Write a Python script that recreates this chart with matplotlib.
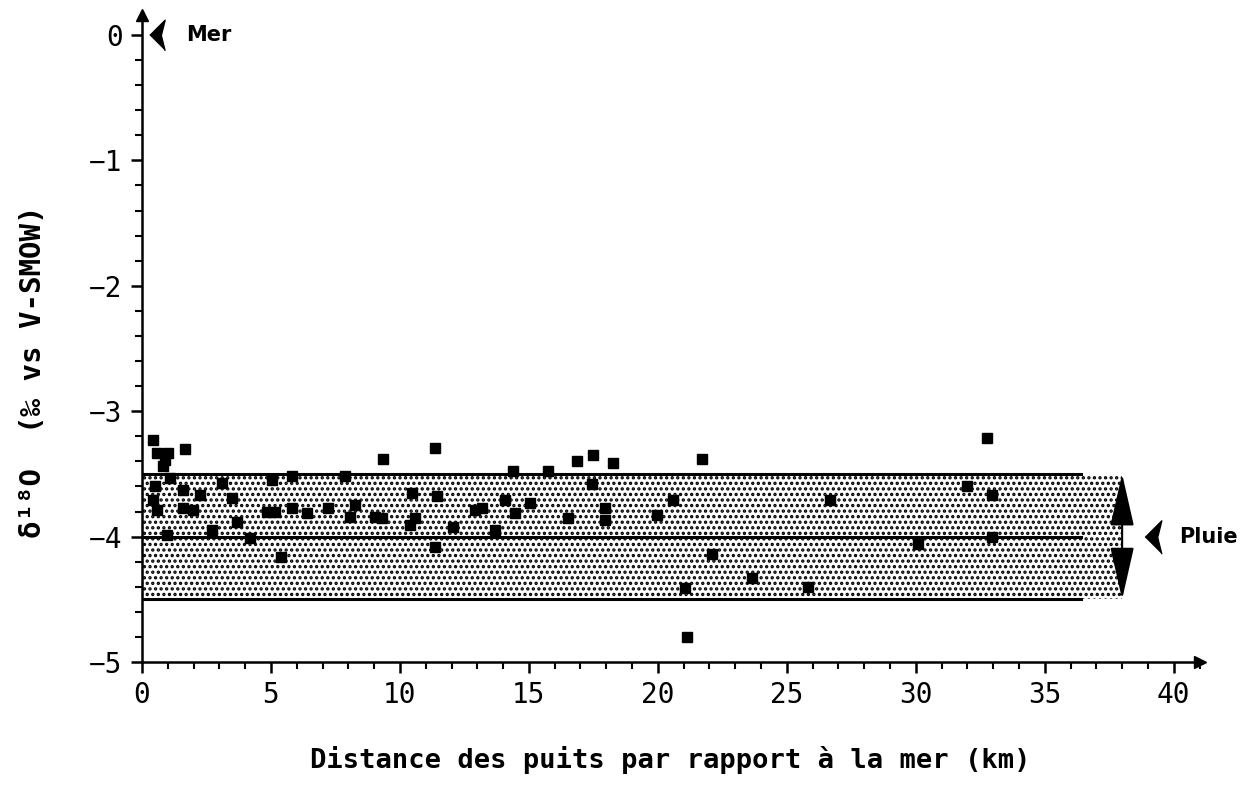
import numpy as np
import matplotlib
matplotlib.use("Agg")
import matplotlib.pyplot as plt
from matplotlib.ticker import MultipleLocator

# distance to the sea (km) and d18O (permil vs V-SMOW) of the wells
dist_km = [0.43, 0.58, 0.9, 1.0, 0.82, 1.67,
           0.5, 0.43, 0.58, 1.08, 1.6, 2.25, 1.6, 1.98, 3.1, 3.5, 3.68, 2.7,
           0.97, 4.2, 5.04, 5.8, 4.84, 5.15, 5.8, 6.4, 5.4,
           9.34, 11.36, 7.87, 10.47, 11.43, 7.2, 8.26, 8.06, 9.03, 9.3,
           10.58, 10.4, 12.05, 12.9, 13.18, 13.7, 11.36,
           16.86, 17.5, 18.26, 14.38, 15.74, 17.44, 14.07, 15.04, 14.46,
           16.5, 17.95, 17.95, 19.96, 20.58,
           21.7, 26.67, 22.1, 23.64, 21.05, 25.81, 21.12,
           32.75, 32.0, 32.95, 32.95, 30.08]
d18o = [-3.23, -3.33, -3.39, -3.33, -3.44, -3.30,
        -3.60, -3.71, -3.79, -3.53, -3.63, -3.67, -3.77, -3.79, -3.57, -3.69, -3.88, -3.95,
        -3.99, -4.01, -3.55, -3.52, -3.80, -3.80, -3.77, -3.81, -4.16,
        -3.38, -3.29, -3.52, -3.65, -3.68, -3.77, -3.75, -3.84, -3.84, -3.85,
        -3.85, -3.91, -3.92, -3.79, -3.77, -3.95, -4.08,
        -3.40, -3.35, -3.41, -3.48, -3.48, -3.58, -3.71, -3.73, -3.81,
        -3.85, -3.77, -3.87, -3.83, -3.71,
        -3.38, -3.71, -4.14, -4.33, -4.41, -4.40, -4.80,
        -3.21, -3.60, -3.67, -4.00, -4.06]

# rain range and sea value
rain_mean = -4.0
rain_low, rain_high = -4.5, -3.5
sea_value = 0.0

fig = plt.figure(figsize=(12.5, 7.98), dpi=100)
ax = fig.add_axes([0.1136, 0.1704, 0.846, 0.811])

ax.set_xlim(0, 41)
ax.set_ylim(-5, 0.16)

# stippled band of rain values
plt.rcParams["hatch.linewidth"] = 1.6
ax.fill_between([0, 38.0], rain_low, rain_high, facecolor="white",
                edgecolor="black", hatch="...", linewidth=0, zorder=1)
for yv in [rain_high, rain_mean, rain_low]:
    ax.plot([0, 36.4], [yv, yv], color="black", lw=2.2, zorder=2)

ax.plot(dist_km, d18o, "s", color="black", markersize=6.5, zorder=3)

# axes style
for s in ["top", "right"]:
    ax.spines[s].set_visible(False)
ax.spines["left"].set_linewidth(1.8)
ax.spines["bottom"].set_linewidth(1.8)
ax.plot(1, 0, ">", transform=ax.transAxes, color="black", markersize=9, clip_on=False)
ax.plot(0, 1, "^", transform=ax.transAxes, color="black", markersize=9, clip_on=False)

ax.xaxis.set_major_locator(MultipleLocator(5))
ax.xaxis.set_minor_locator(MultipleLocator(1))
ax.yaxis.set_major_locator(MultipleLocator(1))
ax.yaxis.set_minor_locator(MultipleLocator(0.2))
ax.set_xticks(np.arange(0, 41, 5))
ax.set_yticks(np.arange(-5, 1, 1))
ax.set_yticklabels(["\u22125", "\u22124", "\u22123", "\u22122", "\u22121", "0"])
ax.tick_params(which="major", length=8, width=1.8, labelsize=20, pad=6)
ax.tick_params(which="minor", length=5, width=1.5)
for lab in ax.get_xticklabels() + ax.get_yticklabels():
    lab.set_family("DejaVu Sans Mono")

ax.set_xlabel("Distance des puits par rapport \u00e0 la mer (km)", family="DejaVu Sans Mono",
              fontweight="bold", fontsize=19.5, labelpad=26)
ax.set_ylabel("\u03b4\u00b9\u2078O  (\u2030 vs V-SMOW)", family="DejaVu Sans Mono",
              fontweight="bold", fontsize=21)
ax.yaxis.set_label_coords(-0.09, 0.448)

# sea marker
tri = [(-1, 0), (1, 2), (0.5, 0), (1, -2)]
ax.plot(0.6, sea_value, marker=tri, color="black", markersize=22, clip_on=False)
ax.text(1.7, sea_value, "Mer", fontsize=15, fontweight="bold", va="center", ha="left")

# rain marker and range arrow
ax.annotate("", xy=(38.0, rain_high), xytext=(38.0, rain_low),
            arrowprops=dict(arrowstyle="<|-|>,head_length=1.1,head_width=0.25",
                            color="black", lw=1.5, mutation_scale=30,
                            shrinkA=0, shrinkB=0))
ax.plot(39.2, rain_mean, marker=tri, color="black", markersize=24, clip_on=False)
ax.text(40.2, rain_mean, "Pluie", fontsize=15, fontweight="bold", va="center", ha="left")

fig.savefig("out.png", dpi=100)
